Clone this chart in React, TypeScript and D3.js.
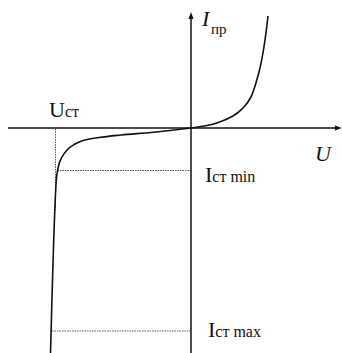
import React from "react";
import * as d3 from "d3";

// Zener diode I–V characteristic (arbitrary units: 1 unit of U, 1 unit of I)
const forwardU = [0, 1.6, 3.0, 4.2, 5.2, 6.0, 6.4, 6.8, 7.7];
const forwardI = [0, 0.25, 0.65, 1.2, 2.0, 3.1, 4.2, 5.6, 11.2];
const reverseU = [0, -4.0, -7.0, -9.2, -10.6, -11.6, -12.4, -12.9, -13.2, -13.35, -13.45, -14.05];
const reverseI = [0, -0.45, -0.7, -0.95, -1.2, -1.6, -2.2, -2.9, -3.6, -4.3, -5.0, -22.6];

const uStab = -13.55;      // stabilisation voltage marker
const iStabMin = -4.25;    // minimum stabilisation current
const iStabMax = -20.3;    // maximum stabilisation current
const iMinU = -13.35;      // U where the curve reaches I_st min
const iMaxU = -13.9;       // U where the curve reaches I_st max

const W = 342;
const H = 353;

export default function App() {
  const x = d3.scaleLinear().domain([-18.3, 15.1]).range([8, 342]);
  const y = d3.scaleLinear().domain([-22.5, 11.4]).range([353, 14]);

  const rev: [number, number][] = reverseU.map((u, i) => [u, reverseI[i]] as [number, number]).reverse();
  const fwd: [number, number][] = forwardU.map((u, i) => [u, forwardI[i]] as [number, number]);

  const lineFwd = d3
    .line<[number, number]>()
    .x((d) => x(d[0]))
    .y((d) => y(d[1]))
    .curve(d3.curveMonotoneY);
  const lineRev = d3
    .line<[number, number]>()
    .x((d) => x(d[0]))
    .y((d) => y(d[1]))
    .curve(d3.curveMonotoneX);

  const x0 = x(0);
  const y0 = y(0);
  const serif = "'Liberation Serif', 'Times New Roman', serif";

  return (
    <svg
      width={W}
      height={H}
      style={{ position: "absolute", left: 0, top: 0, background: "#fff" }}
      fontFamily={serif}
    >
      {/* guide lines */}
      <g stroke="#555" strokeWidth={1} strokeDasharray="1.5,1" fill="none">
        <line x1={x(uStab)} x2={x(uStab)} y1={y0 + 1} y2={y(-8.2)} />
        <line x1={x(iMinU)} x2={x0} y1={y(iStabMin)} y2={y(iStabMin)} />
        <line x1={x(iMaxU)} x2={x0} y1={y(iStabMax)} y2={y(iStabMax)} />
      </g>

      {/* axes */}
      <g stroke="#111" strokeWidth={1.5}>
        <line x1={8} x2={W - 4} y1={y0} y2={y0} />
        <line x1={x0} x2={x0} y1={H} y2={18} />
      </g>
      <path d={`M${W},${y0} L${W - 7},${y0 - 2.5} L${W - 7},${y0 + 2.5} Z`} fill="#111" />
      <path d={`M${x0},${12} L${x0 - 2.5},${19} L${x0 + 2.5},${19} Z`} fill="#111" />

      {/* characteristic */}
      <g stroke="#111" strokeWidth={1.6} fill="none" strokeLinejoin="round">
        <path d={lineRev(rev) ?? ""} />
        <path d={lineFwd(fwd) ?? ""} />
      </g>

      {/* labels */}
      <g fill="#111">
        <text x={49} y={117} fontSize={22}>
          U<tspan fontSize={16}>ст</tspan>
        </text>
        <text x={315} y={161} fontSize={22} fontStyle="italic">U</text>
        <text x={202} y={26} fontSize={22} fontStyle="italic">I</text>
        <text x={211} y={34} fontSize={15}>пр</text>
        <text x={205} y={182} fontSize={22}>
          I<tspan fontSize={16}>ст min</tspan>
        </text>
        <text x={208} y={337} fontSize={22}>
          I<tspan fontSize={16}>ст max</tspan>
        </text>
      </g>
    </svg>
  );
}
